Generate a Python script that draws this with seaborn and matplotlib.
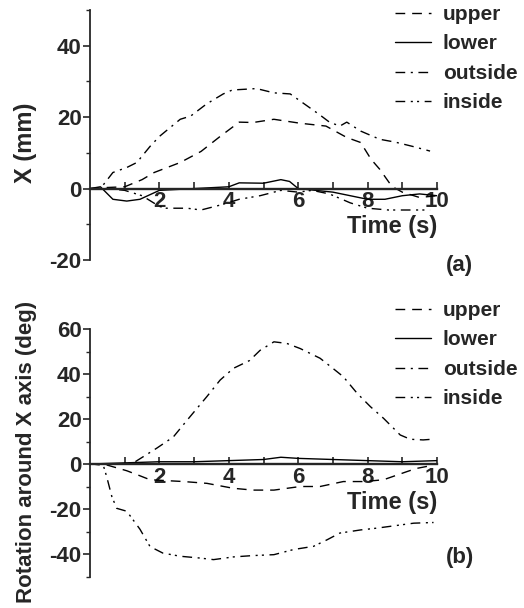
import numpy as np
import pandas as pd
import seaborn as sns
import matplotlib.pyplot as plt

# panel (a): X displacement (mm)
a_upper_t = [0, 0.5, 1.0, 1.5, 1.85, 2.6, 3.2, 3.75, 4.3, 4.7, 5.3, 6.05, 6.8, 7.4, 7.8, 8.1, 8.35, 8.7, 9.0, 9.5, 10.0]
a_upper_y = [0, 0.3, 0.5, 2.5, 4.5, 7.3, 10.4, 14.6, 18.6, 18.5, 19.4, 18.3, 17.5, 14.3, 12.9, 8.2, 5.4, 0.6, -1.0, -2.5, -2.0]
a_lower_t = [0, 0.3, 0.66, 1.06, 1.44, 2.0, 3.0, 4.0, 4.3, 5.0, 5.5, 5.75, 6.0, 6.5, 7.0, 7.5, 8.0, 8.5, 9.0, 9.5, 10.0]
a_lower_y = [0, 0.5, -3, -3.5, -3, -0.5, 0, 0.5, 1.6, 1.5, 2.5, 2, 0, -0.5, -1, -2, -3, -3, -2, -1.5, -2]
a_outside_t = [0, 0.3, 0.66, 1.06, 1.35, 1.73, 2.0, 2.6, 2.9, 3.36, 3.84, 4.1, 4.8, 5.3, 5.77, 6.25, 6.6, 6.9, 7.2, 7.4, 7.8, 8.35, 8.8, 9.3, 9.8]
a_outside_y = [0, 0, 4.5, 5.9, 7.3, 11.8, 14.6, 19.4, 20.3, 23.7, 26.5, 27.6, 28, 26.8, 26.5, 23.2, 20.8, 18.6, 17.5, 18.6, 16.1, 13.8, 13, 11.8, 10.5]
a_inside_t = [0, 0.5, 1.0, 1.5, 2.0, 2.2, 2.8, 3.2, 3.8, 4.3, 4.9, 5.5, 6.0, 6.4, 6.9, 7.5, 8.0, 8.6, 9.2, 9.8]
a_inside_y = [0, 0, -0.5, -2, -5, -5.5, -5.5, -6, -4.5, -3, -2, -0.5, -1, -0.5, -1.5, -4, -5.5, -6, -6, -6]

# panel (b): rotation around X axis (deg)
b_upper_t = [0, 0.5, 1.06, 1.4, 1.73, 2.7, 3.37, 4.13, 4.7, 5.3, 6.06, 6.63, 7.3, 7.9, 8.46, 9.13, 9.4, 9.9]
b_upper_y = [0, -0.5, -3, -5, -7, -7.8, -8.6, -10.8, -11.6, -11.6, -10, -10, -7.8, -7.8, -7, -3.4, -2, -0.5]
b_lower_t = [0, 1, 2, 3, 4, 5, 5.5, 6, 7, 8, 9, 10]
b_lower_y = [0, 0.5, 1, 1, 1.5, 2, 3, 2.5, 2, 1.5, 1, 1.5]
b_outside_t = [0, 0.5, 1.0, 1.25, 1.54, 1.92, 2.4, 2.8, 3.37, 3.75, 4.13, 4.6, 4.9, 5.3, 5.67, 6.06, 6.63, 7.0, 7.3, 7.7, 8.08, 8.46, 8.94, 9.23, 9.6, 9.86]
b_outside_y = [0, 0, 0, 0.5, 3.3, 7, 12, 19.5, 30, 37.3, 42.5, 46, 50.5, 54.3, 53.6, 51.3, 47, 42.5, 38.8, 31.4, 25.5, 20.3, 12.9, 11, 10.7, 11]
b_inside_t = [0, 0.38, 0.48, 0.63, 0.77, 1.06, 1.44, 1.73, 2.1, 2.6, 3.17, 3.56, 4.13, 4.7, 5.3, 5.87, 6.44, 6.83, 7.2, 7.8, 8.27, 8.75, 9.33, 9.9]
b_inside_y = [0, -0.4, -5.6, -14.5, -19.7, -21, -29, -36.7, -39.6, -41, -41.8, -42.5, -41.3, -40.7, -40.3, -38, -36.6, -33.7, -30.7, -29.3, -28.5, -27.5, -26.3, -26]

labels = ["upper", "lower", "outside", "inside"]
styles = [(0, (7, 5)), "-", (0, (7, 4, 1.5, 4)), (0, (7, 4, 1.5, 3, 1.5, 4))]

sns.set_theme(style="ticks")
plt.rcParams['font.family'] = ['Liberation Sans', 'DejaVu Sans']
plt.rcParams['font.size'] = 16
plt.rcParams['xtick.labelsize'] = 16
plt.rcParams['ytick.labelsize'] = 16
plt.rcParams['axes.labelsize'] = 17
plt.rcParams['legend.fontsize'] = 15
plt.rcParams['font.weight'] = 'bold'
plt.rcParams['axes.labelweight'] = 'bold'
plt.rcParams['axes.unicode_minus'] = False

fig = plt.figure(figsize=(5.24, 6.08), dpi=100)
W, H = 524, 608
ax_a = fig.add_axes([90/W, 1-260/H, 347/W, 250/H])
ax_b = fig.add_axes([90/W, 1-576.5/H, 347/W, 247.5/H])

panels = [
    (ax_a, [(a_upper_t, a_upper_y), (a_lower_t, a_lower_y), (a_outside_t, a_outside_y), (a_inside_t, a_inside_y)],
     (-20, 50), [-20, 0, 20, 40], "X (mm)", 17, "(a)", 0.47, 5, 265),
    (ax_b, [(b_upper_t, b_upper_y), (b_lower_t, b_lower_y), (b_outside_t, b_outside_y), (b_inside_t, b_inside_y)],
     (-50, 60), [-40, -20, 0, 20, 40, 60], "Rotation around X axis (deg)", 16, "(b)", 0.505, 301, 557),
]

for ax, series, ylim, yt, ylab, ylab_fs, tag, ylab_y, leg_top, tag_y in panels:
    for (t, v), lab, ls in zip(series, labels, styles):
        sns.lineplot(x=t, y=v, ax=ax, color="black", linewidth=1.0, linestyle=ls, label=lab)
    ax.set_xlim(0, 10)
    ax.set_ylim(*ylim)
    ax.spines["bottom"].set_position(("data", 0))
    ax.spines["bottom"].set_linewidth(1.7)
    ax.spines["left"].set_linewidth(1.3)
    ax.spines["top"].set_visible(False)
    ax.spines["right"].set_visible(False)
    ax.set_xticks(np.arange(1, 11, 1), minor=True)
    ax.set_xticks([2, 4, 6, 8, 10])
    ax.set_yticks(yt)
    ax.set_yticks(np.arange(ylim[0], ylim[1] + 1, 10), minor=True)
    ax.tick_params(axis="x", which="both", direction="in", length=5, width=1.2, pad=2)
    ax.tick_params(axis="y", which="major", direction="out", length=5, width=1.2, pad=1)
    ax.tick_params(axis="y", which="minor", direction="out", length=3, width=1.0)
    ax.set_xlabel("Time (s)", loc="right", labelpad=2)
    ax.set_ylabel(ylab, fontsize=ylab_fs)
    ax.yaxis.set_label_coords(-0.153, ylab_y)
    ax.text(446/W, 1-tag_y/H, tag, transform=fig.transFigure, ha="left", va="center")
    ax.legend(loc="upper left", bbox_to_anchor=(395/W, 1-leg_top/H), bbox_transform=fig.transFigure,
              frameon=False, handlelength=1.75, handletextpad=0.55, labelspacing=0.5,
              borderpad=0, borderaxespad=0)

fig.savefig("out.png", dpi=100)
